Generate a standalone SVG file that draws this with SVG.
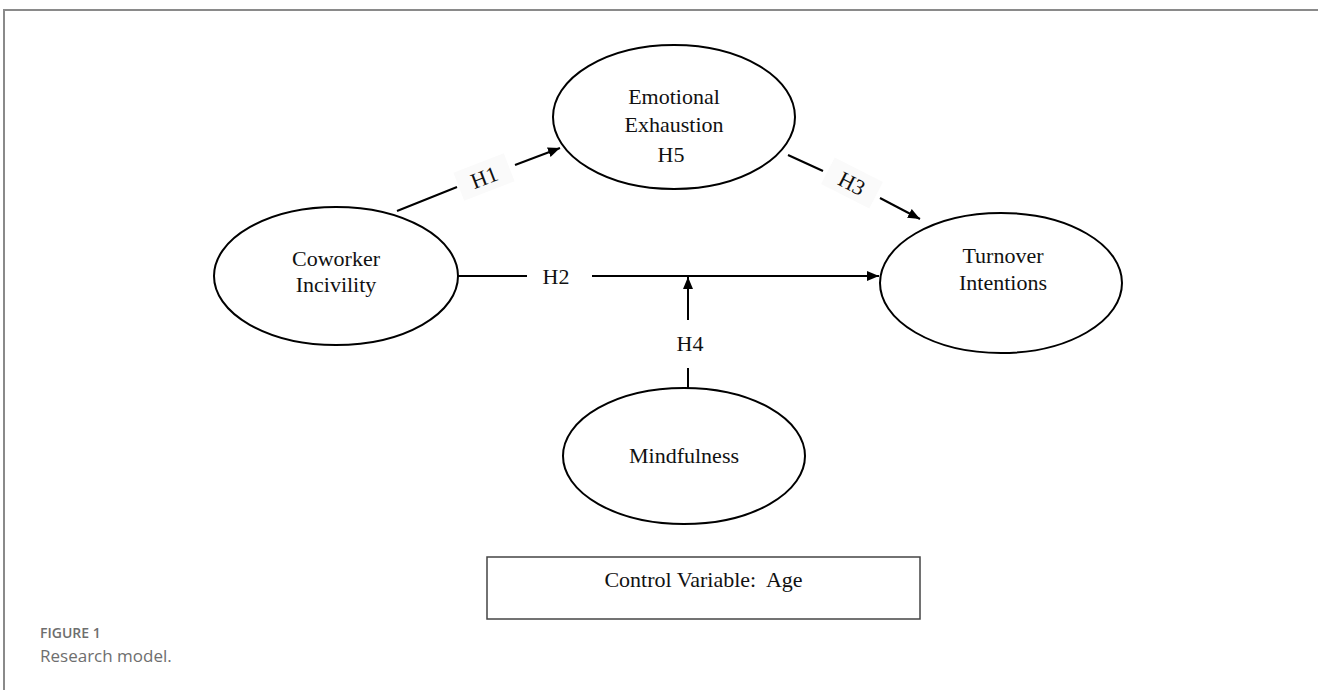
<svg xmlns="http://www.w3.org/2000/svg" width="1318" height="690" viewBox="0 0 1318 690">
  <style>
    .node { fill: #ffffff; stroke: #000000; stroke-width: 2; }
    .lbl { font-family: "Liberation Serif", "Times New Roman", serif; font-size: 22px; fill: #111111; text-anchor: middle; }
    .edge { stroke: #000000; stroke-width: 2; fill: none; }
    .lblbg { fill: #fafafa; stroke: none; }
    .cap1 { font-family: "Open Sans", "Noto Sans", sans-serif; font-size: 14px; font-weight: 600; fill: #6e6e6e; }
    .cap2 { font-family: "Open Sans", "Noto Sans", sans-serif; font-size: 17px; fill: #6e6e6e; }
  </style>
  <defs>
    <marker id="arrow" viewBox="0 0 12 10" refX="12" refY="5" markerWidth="12" markerHeight="10" markerUnits="userSpaceOnUse" orient="auto">
      <path d="M0,0 L12,5 L0,10 Z" fill="#000000"/>
    </marker>
  </defs>
  <rect x="0" y="0" width="1318" height="690" fill="#ffffff"/>
  <g id="frame">
    <path d="M4,690 L4,10 L1318,10" fill="none" stroke="#8a8a8a" stroke-width="2"/>
  </g>

  <g id="connectors">
    <!-- H1 -->
    <line class="edge" x1="397" y1="211" x2="457" y2="187"/>
    <line class="edge" x1="515" y1="165" x2="560" y2="148" marker-end="url(#arrow)"/>
    <g transform="translate(484,177) rotate(-21)">
      <rect class="lblbg" x="-27" y="-15" width="54" height="30"/>
      <text class="lbl" x="0" y="8">H1</text>
    </g>
    <!-- H3 -->
    <line class="edge" x1="788" y1="155" x2="823" y2="171"/>
    <line class="edge" x1="880" y1="198" x2="920" y2="219" marker-end="url(#arrow)"/>
    <g transform="translate(852,183) rotate(27)">
      <rect class="lblbg" x="-27" y="-15" width="54" height="30"/>
      <text class="lbl" x="0" y="8">H3</text>
    </g>
    <!-- H2 -->
    <line class="edge" x1="458" y1="276" x2="527" y2="276"/>
    <line class="edge" x1="592" y1="276" x2="879" y2="276" marker-end="url(#arrow)"/>
    <text class="lbl" x="556" y="284">H2</text>
    <!-- H4 -->
    <line class="edge" x1="688" y1="388" x2="688" y2="368"/>
    <line class="edge" x1="688" y1="320" x2="688" y2="277" marker-end="url(#arrow)"/>
    <text class="lbl" x="690" y="351">H4</text>
  </g>

  <g id="node-emotional-exhaustion">
    <ellipse class="node" cx="674" cy="117" rx="121" ry="72"/>
    <text class="lbl" x="674" y="104">Emotional</text>
    <text class="lbl" x="674" y="132">Exhaustion</text>
    <text class="lbl" x="671" y="162">H5</text>
  </g>

  <g id="node-coworker-incivility">
    <ellipse class="node" cx="336" cy="276" rx="122" ry="69"/>
    <text class="lbl" x="336" y="266">Coworker</text>
    <text class="lbl" x="336" y="292">Incivility</text>
  </g>

  <g id="node-turnover-intentions">
    <ellipse class="node" cx="1001" cy="283" rx="121" ry="70"/>
    <text class="lbl" x="1003" y="263">Turnover</text>
    <text class="lbl" x="1003" y="290">Intentions</text>
  </g>

  <g id="node-mindfulness">
    <ellipse class="node" cx="684" cy="456" rx="121" ry="68"/>
    <text class="lbl" x="684" y="463">Mindfulness</text>
  </g>

  <g id="node-control-variable">
    <rect x="487" y="557" width="433" height="62" fill="#ffffff" stroke="#444444" stroke-width="1.5"/>
    <text class="lbl" x="703.5" y="587" style="white-space:pre">Control Variable:  Age</text>
  </g>

  <g id="caption">
    <text class="cap1" x="40" y="638">FIGURE 1</text>
    <text class="cap2" x="40" y="662">Research model.</text>
  </g>
</svg>
